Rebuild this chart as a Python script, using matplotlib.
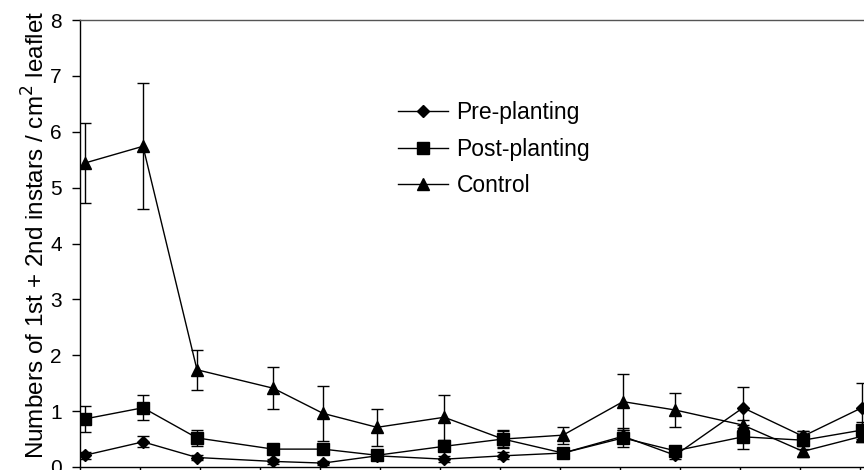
import matplotlib
matplotlib.use("Agg")
import matplotlib.pyplot as plt

plt.rcParams['font.family'] = ['Liberation Sans', 'DejaVu Sans']

# sampling positions (in x tick units)
sample_pos = [0.08, 1.05, 1.95, 3.22, 4.05, 4.95, 6.07, 7.05, 8.05, 9.05, 9.92, 11.05, 12.05, 13.03]

pre = [0.21, 0.45, 0.17, 0.10, 0.07, 0.20, 0.14, 0.20, 0.25, 0.55, 0.21, 1.06, 0.55, 1.06]
pre_err = [0.06, 0.10, 0.05, 0.04, 0.04, 0.05, 0.05, 0.06, 0.05, 0.12, 0.06, 0.37, 0.10, 0.45]

post = [0.86, 1.06, 0.52, 0.32, 0.32, 0.21, 0.37, 0.50, 0.25, 0.52, 0.29, 0.54, 0.48, 0.66]
post_err = [0.24, 0.22, 0.14, 0.06, 0.06, 0.05, 0.09, 0.16, 0.06, 0.17, 0.07, 0.22, 0.16, 0.15]

control = [5.44, 5.74, 1.74, 1.41, 0.96, 0.71, 0.89, 0.50, 0.57, 1.17, 1.02, 0.75, 0.28, 0.55]
control_err = [0.71, 1.13, 0.36, 0.38, 0.49, 0.33, 0.40, 0.15, 0.15, 0.50, 0.31, 0.10, 0.10, 0.10]

labels = ['Pre-planting', 'Post-planting', 'Control']

fig = plt.figure(figsize=(8.64, 4.70), dpi=100)
# axes runs past the right and bottom edges, as in the scanned figure
ax = fig.add_axes([80/864, 3/470, 810/864, 447/470])

kw = dict(color='black', lw=1.0, elinewidth=1.0, capsize=4.5, capthick=1.0)
e1 = ax.errorbar(sample_pos, pre, yerr=pre_err, fmt='-D', ms=6, **kw)
e2 = ax.errorbar(sample_pos, post, yerr=post_err, fmt='-s', ms=8.5, **kw)
e3 = ax.errorbar(sample_pos, control, yerr=control_err, fmt='-^', ms=9, **kw)

ax.set_xlim(0, 13.5)
ax.set_ylim(0, 8)
ax.set_xticks(range(14))
ax.set_xticklabels([])
ax.set_yticks(range(9))
ax.tick_params(axis='both', direction='out', length=6, width=1, labelsize=15, pad=7)
for s in ax.spines.values():
    s.set_linewidth(1.0)
ax.spines['top'].set_color('#555555')

ax.set_ylabel('Numbers of 1st + 2nd instars / cm$^2$ leaflet', fontsize=17.5)
ax.yaxis.set_label_coords(-0.038, 0.52)

# legend shows plain line + marker, no error bars
ax.legend([e1[0], e2[0], e3[0]], labels, loc='upper left',
          bbox_to_anchor=(398/864, 1 - 101/470), bbox_transform=fig.transFigure,
          frameon=False, fontsize=16.5, handlelength=2.2, handletextpad=0.35,
          labelspacing=0.6, borderpad=0, borderaxespad=0)

fig.savefig('out.png', dpi=100)
